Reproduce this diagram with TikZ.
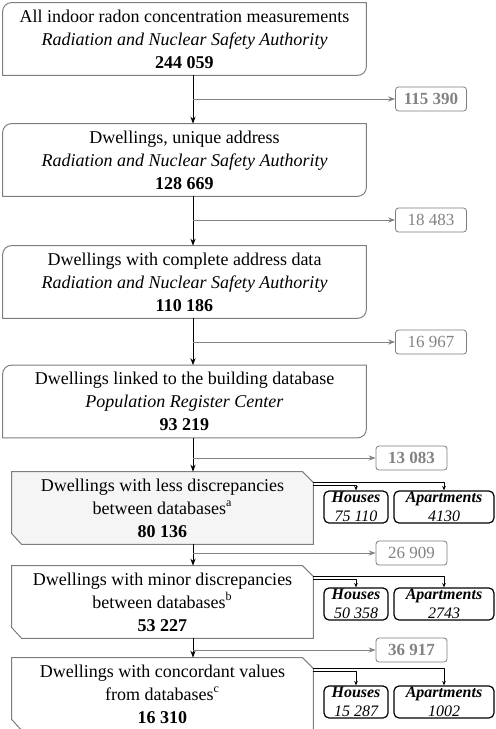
\documentclass[tikz,border=0pt]{standalone}
\usepackage{fontspec}
\setmainfont{Liberation Serif}
\usetikzlibrary{calc,arrows.meta,backgrounds}
\definecolor{framegray}{RGB}{125,125,125}
\definecolor{numgray}{RGB}{130,130,130}
\definecolor{lightfill}{RGB}{245,245,245}
\begin{document}
\begin{tikzpicture}[x=0.5pt, y=-0.5pt, font=\fontsize{9}{11.5}\selectfont, line join=round, >={Stealth[length=3.5pt, width=2.6pt]}]
\tikzset{
	stage/.style={minimum width=181.5pt, minimum height=36pt, inner sep=0pt, align=center},
	lowstage/.style={minimum width=150.5pt, minimum height=36pt, inner sep=0pt, align=center},
	frame/.style={draw=framegray, line width=0.5pt},
	excl/.style={draw=framegray, rounded corners=1.5pt, text=numgray, minimum width=35.5pt, minimum height=12pt, inner sep=0pt, font=\fontsize{8.5}{10}\selectfont},
	kind/.style={draw=black, line width=0.6pt, rounded corners=2.5pt, align=center, minimum height=16pt, inner sep=0pt, font=\fontsize{8}{9.5}\selectfont\itshape},
	mainarrow/.style={->, black, line width=0.5pt},
	sidearrow/.style={->, draw=numgray, line width=0.5pt},
	kindarrow/.style={-{Stealth[length=2.2pt, width=1.8pt]}, black, line width=0.45pt},
}
\useasboundingbox (0,0) rectangle (496,729);
\coordinate (axis) at (193,0);

% stages
\node[stage] (all) at (184.5,39) {All indoor radon concentration measurements\\ \textit{Radiation and Nuclear Safety Authority}\\ \textbf{244 059}};
\node[stage] (unique) at (184.5,160) {Dwellings, unique address\\ \textit{Radiation and Nuclear Safety Authority}\\ \textbf{128 669}};
\node[stage] (complete) at (184.5,282) {Dwellings with complete address data\\ \textit{Radiation and Nuclear Safety Authority}\\ \textbf{110 186}};
\node[stage] (linked) at (184.5,401.5) {Dwellings linked to the building database\\ \textit{Population Register Center}\\ \textbf{93 219}};
\node[lowstage] (less) at (162.5,508) {Dwellings with less discrepancies\\ between databases\textsuperscript{a}\\ \textbf{80 136}};
\node[lowstage] (minor) at (162.5,602) {Dwellings with minor discrepancies\\ between databases\textsuperscript{b}\\ \textbf{53 227}};
\node[lowstage] (concord) at (162.5,694) {Dwellings with concordant values\\ from databases\textsuperscript{c}\\ \textbf{16 310}};

\foreach \n in {all,unique,complete,linked}
	\draw[frame] (\n.south west) -- ($(\n.north west)+(0,9)$)
		.. controls ($(\n.north west)+(0,4)$) and ($(\n.north west)+(4,0)$) .. ($(\n.north west)+(9,0)$)
		-- (\n.north east) -- ($(\n.south east)+(0,-9)$)
		.. controls ($(\n.south east)+(0,-4)$) and ($(\n.south east)+(-4,0)$) .. ($(\n.south east)+(-9,0)$) -- cycle;
\begin{scope}[on background layer]
	\foreach \n/\c in {less/lightfill,minor/white,concord/white}
		\draw[frame, fill=\c] (\n.north west) -- ($(\n.north east)+(-11,0)$) -- ($(\n.north east)+(0,11)$) -- (\n.south east) -- ($(\n.south west)+(10,0)$) -- ($(\n.south west)+(0,-11)$) -- cycle;
\end{scope}

% excluded counts
\node[excl] (out1) at (431,99) {\textbf{115 390}};
\node[excl] (out2) at (431,220) {18 483};
\node[excl] (out3) at (431,342) {16 967};
\node[excl] (out4) at (411.5,458) {\textbf{13 083}};
\node[excl] (out5) at (411.5,553) {26 909};
\node[excl] (out6) at (411.5,650) {\textbf{36 917}};

% houses / apartments
\node[kind, minimum width=32pt] (h5) at (356,507) {\textbf{Houses}\\ 75 110};
\node[kind, minimum width=50pt] (a5) at (444,507) {\textbf{Apartments}\\ 4130};
\node[kind, minimum width=32pt] (h6) at (356,604) {\textbf{Houses}\\ 50 358};
\node[kind, minimum width=50pt] (a6) at (444,604) {\textbf{Apartments}\\ 2743};
\node[kind, minimum width=32pt] (h7) at (356,702) {\textbf{Houses}\\ 15 287};
\node[kind, minimum width=50pt] (a7) at (444,702) {\textbf{Apartments}\\ 1002};

% flow
\draw[mainarrow] (all.south -| axis) -- (unique.north -| axis);
\draw[mainarrow] (unique.south -| axis) -- (complete.north -| axis);
\draw[mainarrow] (complete.south -| axis) -- (linked.north -| axis);
\draw[mainarrow] (linked.south -| axis) -- (less.north -| axis);
\draw[mainarrow] (less.south -| axis) -- (minor.north -| axis);
\draw[mainarrow] (minor.south -| axis) -- (concord.north -| axis);
\foreach \k in {1,...,6}
	\draw[sidearrow] (axis |- out\k) -- (out\k.west);
\foreach \s/\k in {less/5,minor/6,concord/7}{
	\draw[kindarrow] ($(\s.north east)+(0,14)$) -| (h\k.north);
	\draw[kindarrow] ($(\s.north east)+(0,11)$) -| (a\k.north);
}
\end{tikzpicture}
\end{document}
